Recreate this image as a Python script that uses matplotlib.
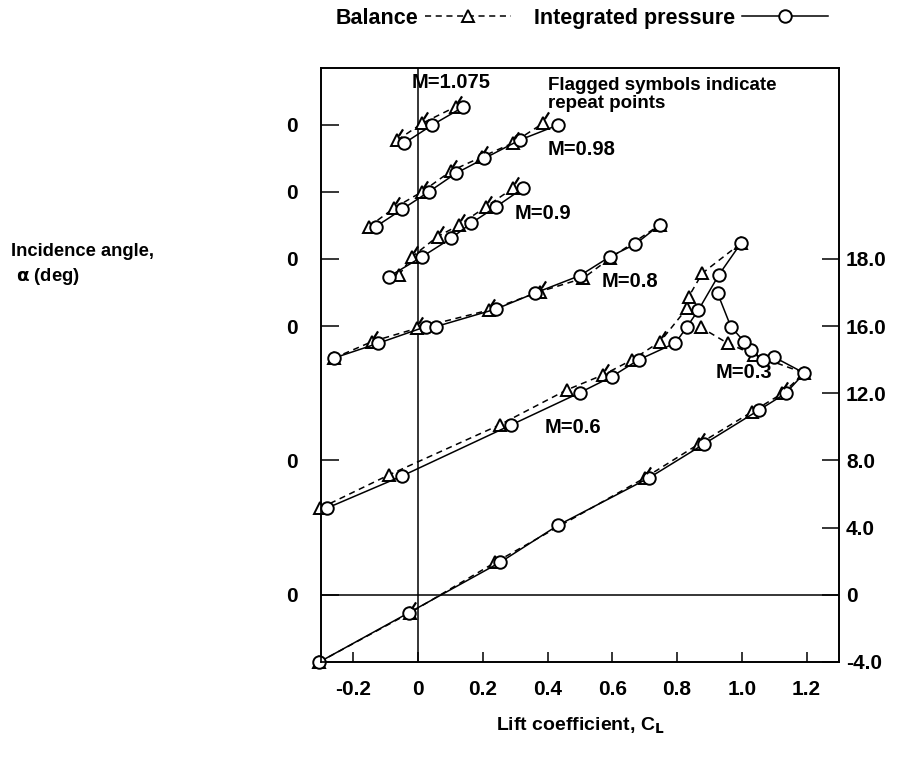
import matplotlib.pyplot as plt
from matplotlib.lines import Line2D
from matplotlib.path import Path

plt.rcParams['font.family'] = ['Liberation Sans', 'DejaVu Sans']
plt.rcParams['font.weight'] = 'bold'
plt.rcParams['axes.labelweight'] = 'bold'
plt.rcParams['mathtext.default'] = 'bf'

# Data: lift coefficient (CL) vs incidence angle, each Mach curve shifted on a common scale
# p = integrated pressure (circles), b = balance (triangles)
m1075_cl_p = [-0.043, 0.044, 0.138]
m1075_a_p = [26.89, 27.98, 29.03]
m1075_cl_b = [-0.064, 0.013, 0.117]
m1075_a_b = [27.08, 28.08, 29.07]
m1075_flag = [0, 1, 2]

m098_cl_p = [-0.131, -0.049, 0.034, 0.117, 0.205, 0.314, 0.433]
m098_a_p = [21.92, 22.96, 24.01, 25.10, 25.99, 27.08, 27.98]
m098_cl_b = [-0.152, -0.075, 0.013, 0.102, 0.196, 0.292, 0.386]
m098_a_b = [21.92, 23.02, 24.01, 25.24, 26.07, 26.90, 28.08]
m098_flag = [1, 2, 3, 4, 5, 6]

m09_cl_p = [-0.090, 0.013, 0.102, 0.164, 0.241, 0.324]
m09_a_p = [18.95, 20.14, 21.23, 22.13, 23.11, 24.21]
m09_cl_b = [-0.059, -0.018, 0.060, 0.127, 0.210, 0.293]
m09_a_b = [19.05, 20.14, 21.33, 22.02, 23.11, 24.21]
m09_flag = [1, 2, 3, 4, 5]

m08_cl_p = [-0.261, -0.123, 0.024, 0.055, 0.241, 0.360, 0.500, 0.593, 0.671, 0.746]
m08_a_p = [14.09, 14.98, 15.97, 15.97, 17.02, 17.96, 19.01, 20.14, 20.88, 22.02]
m08_cl_b = [-0.261, -0.142, -0.002, 0.220, 0.376, 0.510, 0.593, 0.746]
m08_a_b = [14.09, 15.08, 15.88, 16.96, 18.05, 18.85, 20.04, 22.02]
m08_flag = [1, 2, 3, 4]

m06_cl_p = [-0.282, -0.049, 0.288, 0.500, 0.598, 0.681, 0.795, 0.831, 0.866, 0.929, 0.997]
m06_a_p = [5.16, 7.08, 10.12, 12.04, 12.99, 13.99, 15.00, 15.97, 16.96, 19.05, 20.93]
m06_cl_b = [-0.302, -0.090, 0.252, 0.459, 0.572, 0.661, 0.748, 0.831, 0.836, 0.878, 0.997]
m06_a_b = [5.16, 7.14, 10.12, 12.20, 13.10, 13.99, 15.08, 17.07, 17.76, 19.15, 20.93]
m06_flag = [4, 6]

m03_cl_p = [-0.305, -0.029, 0.254, 0.433, 0.713, 0.884, 1.052, 1.135, 1.193,
            1.100, 1.064, 1.028, 1.007, 0.966, 0.925]
m03_a_p = [-4.0, -1.07, 1.94, 4.15, 6.96, 8.99, 10.99, 11.99, 13.20,
           14.15, 13.99, 14.58, 15.08, 15.97, 17.96]
m03_cl_b = [-0.305, -0.025, 0.239, 0.700, 0.868, 1.031, 1.125, 1.193, 1.038, 0.956, 0.873]
m03_a_b = [-4.0, -1.07, 1.94, 6.96, 8.99, 10.89, 11.99, 13.20, 14.29, 14.98, 15.93]
m03_flag = [1, 3, 4, 6]

series = [
    (m1075_cl_p, m1075_a_p, m1075_cl_b, m1075_a_b, m1075_flag),
    (m098_cl_p, m098_a_p, m098_cl_b, m098_a_b, m098_flag),
    (m09_cl_p, m09_a_p, m09_cl_b, m09_a_b, m09_flag),
    (m08_cl_p, m08_a_p, m08_cl_b, m08_a_b, m08_flag),
    (m06_cl_p, m06_a_p, m06_cl_b, m06_a_b, m06_flag),
    (m03_cl_p, m03_a_p, m03_cl_b, m03_a_b, m03_flag),
]

x_ticks = [-0.2, 0, 0.2, 0.4, 0.6, 0.8, 1.0, 1.2]
x_labels = ['-0.2', '0', '0.2', '0.4', '0.6', '0.8', '1.0', '1.2']
left_ticks = [0, 8, 16, 20, 24, 28]
right_ticks = [-4, 0, 4, 8, 12, 16, 20]
right_labels = ['-4.0', '0', '4.0', '8.0', '12.0', '16.0', '18.0']

# small flag drawn on repeat points
flag_marker = Path([(-1, -1), (0.12, 0.4), (0.5, 1.0)],
                   [Path.MOVETO, Path.MOVETO, Path.LINETO])

fig = plt.figure(figsize=(9.06, 7.63), dpi=100)
ax = fig.add_axes([0.3543, 0.1324, 0.5717, 0.7785])

ax.axhline(0, color='k', lw=1.1)
ax.axvline(0, color='k', lw=1.1)

for cl_p, a_p, cl_b, a_b, flags in series:
    ax.plot(cl_b, a_b, color='k', lw=1.1, ls=(0, (4, 3)), marker='^', ms=8,
            mfc='white', mec='k', mew=1.4, zorder=3, clip_on=False)
    ax.plot(cl_p, a_p, color='k', lw=1.1, ls='-', marker='o', ms=9,
            mfc='white', mec='k', mew=1.4, zorder=4, clip_on=False)
    ax.plot([cl_b[i] for i in flags], [a_b[i] for i in flags], ls='none',
            marker=flag_marker, ms=16, mec='k', mew=1.6, zorder=5)

ax.text(-0.019, 30.5, 'M=1.075', fontsize=14.5, va='center')
ax.text(0.40, 30.85, 'Flagged symbols indicate\nrepeat points', fontsize=13.5,
        va='top', linespacing=1.12)
ax.text(0.40, 26.5, 'M=0.98', fontsize=14.5, va='center')
ax.text(0.298, 22.68, 'M=0.9', fontsize=14.5, va='center')
ax.text(0.568, 18.63, 'M=0.8', fontsize=14.5, va='center')
ax.text(0.391, 9.94, 'M=0.6', fontsize=14.5, va='center')
ax.text(0.919, 13.21, 'M=0.3', fontsize=14.5, va='center')

ax.set_xlim(-0.3, 1.3)
ax.set_ylim(-4, 31.37)
ax.set_xticks(x_ticks)
ax.set_xticklabels(x_labels)
ax.set_yticks(left_ticks)
ax.set_yticklabels(['0'] * len(left_ticks))
ax.tick_params(axis='x', direction='in', length=7, width=1.1, pad=13, labelsize=15)
ax.tick_params(axis='y', direction='in', length=13, width=1.1, pad=17, labelsize=15)

ax2 = ax.twinx()
ax2.set_ylim(ax.get_ylim())
ax2.set_yticks(right_ticks)
ax2.set_yticklabels(right_labels)
ax2.tick_params(axis='y', direction='in', length=12, width=1.1, pad=5, labelsize=15)

for a in (ax, ax2):
    for s in a.spines.values():
        s.set_linewidth(1.2)

ax.set_xlabel('Lift coefficient, C$_L$', fontsize=14, labelpad=12)
fig.text(11 / 906, 1 - 265 / 763, 'Incidence angle,\n $\\alpha$ (deg)', fontsize=13.2,
         ha='left', va='center', linespacing=1.35)

handles = [
    Line2D([], [], color='k', lw=1.1, ls=(0, (4, 3)), marker='^', ms=8,
           mfc='white', mec='k', mew=1.4),
    Line2D([], [], color='k', lw=1.1, ls='-', marker='o', ms=9,
           mfc='white', mec='k', mew=1.4),
]
fig.legend(handles, ['Balance', 'Integrated pressure'], loc='center',
           bbox_to_anchor=(0.642, 0.976), ncol=2, markerfirst=False, frameon=False,
           handlelength=4.0, handletextpad=0.3, columnspacing=1.1, numpoints=1,
           fontsize=15.5)

fig.savefig('out.png', dpi=100)
